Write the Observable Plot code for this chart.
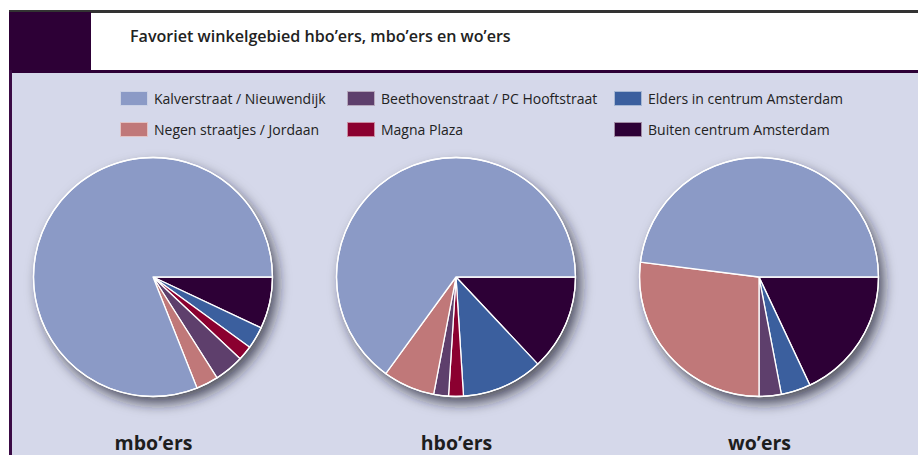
<!DOCTYPE html>
<html>
<head>
<meta charset="utf-8">
<script src="https://cdn.jsdelivr.net/npm/d3@7"></script>
<script src="https://cdn.jsdelivr.net/npm/@observablehq/plot@0.6"></script>
<style>
  html, body { margin: 0; padding: 0; background: #ffffff; }
  #page { position: relative; width: 918px; height: 455px; overflow: hidden; background: #ffffff; font-family: "Open Sans", "Noto Sans", sans-serif; }
  .abs { position: absolute; }
  #grayline { left: 9px; right: 0; top: 10px; height: 2.5px; background: #333333; }
  #block { left: 9px; top: 12px; width: 82px; height: 59px; background: #2d0036; }
  #title { left: 130px; top: 25px; font-size: 16.1px; line-height: 22px; font-weight: 600; color: #222222; letter-spacing: 0; }
  #purpleline { left: 9px; right: 0; top: 70px; height: 2.6px; background: #2d0036; }
  #panel { left: 12px; right: 0; top: 72.6px; bottom: 0; background: #d5d8ea; }
  #leftborder { left: 9px; width: 3px; top: 70px; bottom: 0; background: #3a0a45; }
  #legend { left: 120px; top: 88px; display: grid; grid-auto-flow: column; grid-template-rows: 21px 21px; row-gap: 10px; grid-template-columns: 227px 267px 260px; }
  .item { display: flex; align-items: center; font-size: 14px; color: #222222; }
  .sw { width: 28px; height: 15px; margin-right: 6px; box-sizing: border-box; border: 1px solid rgba(255,255,255,0.55); flex: none; }
  #chart { left: 0; top: 145px; }
</style>
</head>
<body>
<div id="page">
  <div id="panel" class="abs"></div>
  <div id="grayline" class="abs"></div>
  <div id="block" class="abs"></div>
  <div id="title" class="abs">Favoriet winkelgebied hbo’ers, mbo’ers en wo’ers</div>
  <div id="purpleline" class="abs"></div>
  <div id="leftborder" class="abs"></div>
  <div id="legend" class="abs"></div>
  <div id="chart" class="abs"></div>
</div>
<script>
// ---- Data ----
const groups = ["mbo’ers", "hbo’ers", "wo’ers"];
const categories = [
  "Kalverstraat / Nieuwendijk",
  "Negen straatjes / Jordaan",
  "Beethovenstraat / PC Hooftstraat",
  "Magna Plaza",
  "Elders in centrum Amsterdam",
  "Buiten centrum Amsterdam"
];
const colors = ["#8b9ac6", "#c07879", "#5e3f6c", "#8b0030", "#3b5f9e", "#2d0036"];
const mboValues = [81, 3, 4, 2, 3, 7];
const hboValues = [65, 7, 2, 2, 11, 13];
const woValues  = [48, 27, 3, 0, 4, 18];
const seriesValues = [mboValues, hboValues, woValues];

// ---- Build slice table (angles from d3.pie, clockwise from 3 o'clock) ----
const pie = d3.pie().sort(null).value(d => d.value)
  .startAngle(Math.PI / 2).endAngle(Math.PI / 2 + 2 * Math.PI);
const slices = [];
groups.forEach((g, gi) => {
  const rows = categories.map((c, ci) => ({group: g, category: c, value: seriesValues[gi][ci]})).reverse();
  pie(rows).forEach(a => slices.push({...a.data, startAngle: a.startAngle, endAngle: a.endAngle}));
});

// ---- Legend ----
const legend = d3.select("#legend");
categories.forEach((c, i) => {
  const item = legend.append("div").attr("class", "item");
  item.append("div").attr("class", "sw").style("background", colors[i]);
  item.append("span").text(c);
});

// ---- Chart ----
const chart = Plot.plot({
  width: 918,
  height: 310,
  marginTop: 12.5,
  marginBottom: 58.5,
  marginLeft: 152.5,
  marginRight: 158,
  style: {background: "transparent", overflow: "visible"},
  x: {type: "point", domain: groups, padding: 0, axis: null},
  y: {domain: [-1, 1], axis: null},
  color: {domain: categories, range: colors},
  marks: [
    Plot.dot(slices, {
      x: "group",
      y: () => 0,
      fill: "category",
      render: (index, scales, values) => {
        const g = d3.create("svg:g");
        const f = g.append("defs").append("filter")
          .attr("id", "pieShadow")
          .attr("x", "-30%").attr("y", "-30%").attr("width", "160%").attr("height", "160%");
        f.append("feDropShadow")
          .attr("dx", 5).attr("dy", 7).attr("stdDeviation", 6.5)
          .attr("flood-color", "#1c1c28").attr("flood-opacity", 0.72);
        const cy = scales.y(0);
        const r = scales.y(-1) - scales.y(0);
        const centers = Array.from(new Set(Array.from(index, i => values.x[i])));
        centers.forEach(cx => {
          g.append("circle").attr("cx", cx).attr("cy", cy).attr("r", r)
            .attr("fill", colors[0]).attr("filter", "url(#pieShadow)");
        });
        const arc = d3.arc().innerRadius(0).outerRadius(r);
        for (const i of index) {
          const d = slices[i];
          if (!(d.value > 0)) continue;
          g.append("path")
            .attr("transform", `translate(${values.x[i]},${cy})`)
            .attr("d", arc({startAngle: d.startAngle, endAngle: d.endAngle}))
            .attr("fill", values.fill[i])
            .attr("stroke", "#ffffff")
            .attr("stroke-width", 1.3)
            .attr("stroke-linejoin", "round");
        }
        centers.forEach(cx => {
          g.append("circle").attr("cx", cx).attr("cy", cy).attr("r", r)
            .attr("fill", "none").attr("stroke", "#ffffff").attr("stroke-width", 1.3);
        });
        return g.node();
      }
    }),
    Plot.text(groups, {
      x: d => d,
      frameAnchor: "bottom",
      dy: 53,
      text: d => d,
      fontSize: 19.5,
      fontWeight: "bold",
      fill: "#1e1e1e",
      fontFamily: "Open Sans"
    })
  ]
});
document.getElementById("chart").appendChild(chart);
</script>
</body>
</html>
